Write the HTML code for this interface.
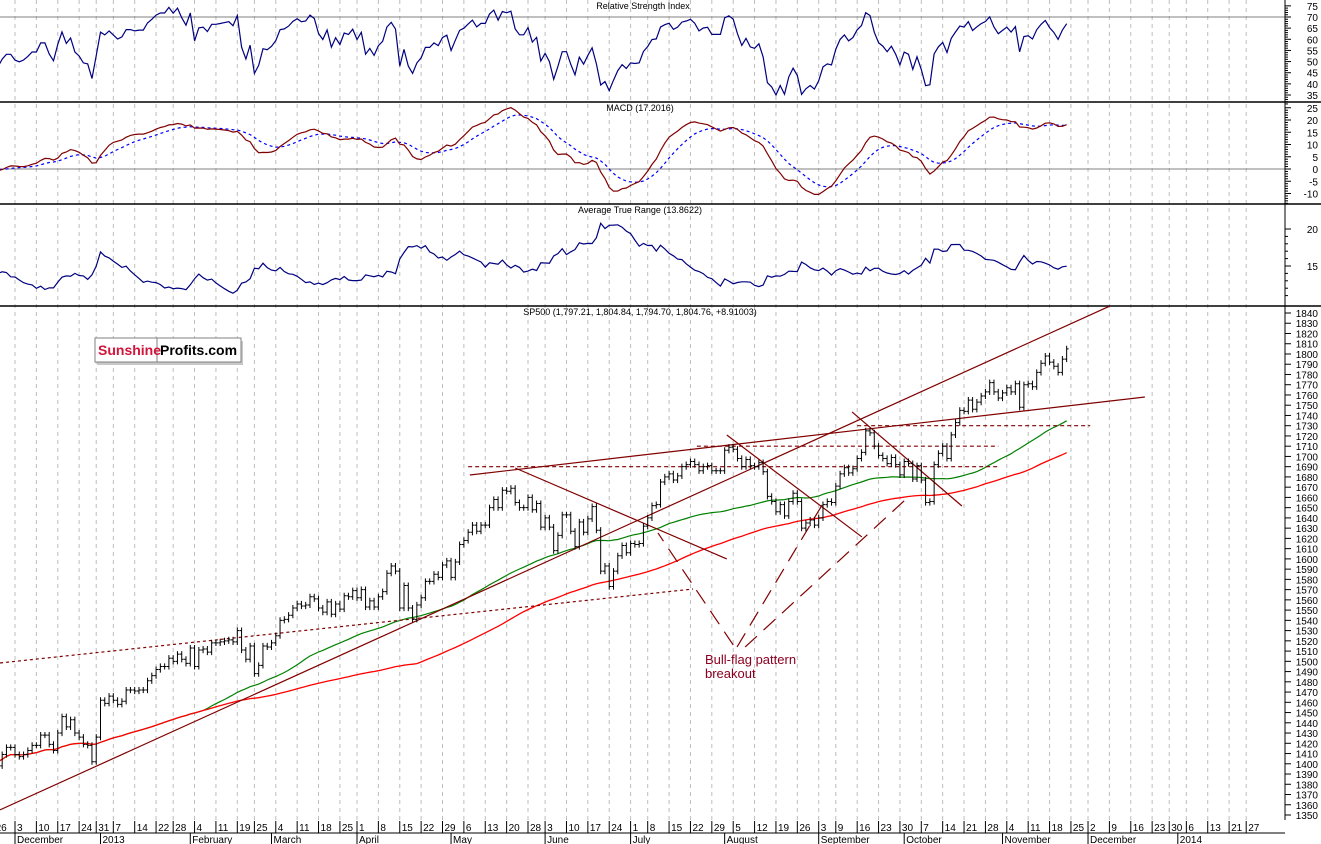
<!DOCTYPE html>
<html><head><meta charset="utf-8"><style>
html,body{margin:0;padding:0;background:#fff;}
svg{display:block;font-family:"Liberation Sans",Arial,sans-serif;}
</style></head><body>
<svg id="c" width="1321" height="844" viewBox="0 0 1321 844">
<defs>
<clipPath id="mainClip"><rect x="0" y="306" width="1285" height="514"/></clipPath>
<clipPath id="rsiClip"><rect x="0" y="0" width="1285" height="102"/></clipPath>
<clipPath id="macdClip"><rect x="0" y="102" width="1285" height="102"/></clipPath>
<clipPath id="atrClip"><rect x="0" y="204" width="1285" height="102"/></clipPath>
</defs>
<g id="grid"></g>
<g id="panels"></g>
<g id="rsi" clip-path="url(#rsiClip)"></g>
<g id="macd" clip-path="url(#macdClip)"></g>
<g id="atr" clip-path="url(#atrClip)"></g>
<g id="main" clip-path="url(#mainClip)"></g>
<g id="axis"></g>
<g id="dates"></g>
<text x="643" y="9" font-size="9" text-anchor="middle">Relative Strength Index</text>
<text x="640" y="111" font-size="9" text-anchor="middle">MACD (17.2016)</text>
<text x="640" y="213" font-size="9" text-anchor="middle">Average True Range (13.8622)</text>
<text x="640" y="315" font-size="9" text-anchor="middle">SP500 (1,797.21, 1,804.84, 1,794.70, 1,804.76, +8.91003)</text>
<g>
<rect x="97" y="341" width="146" height="24" fill="#c8c8c8"/>
<rect x="95" y="338" width="146" height="24" fill="#fff" stroke="#808080"/>
<line x1="157" y1="338" x2="157" y2="362" stroke="#808080"/>
<text x="98" y="355" font-size="14" font-weight="bold" fill="#d2143a">Sunshine</text>
<text x="160" y="355" font-size="14" font-weight="bold" fill="#000">Profits.com</text>
</g>
<text x="705" y="664" font-size="13" fill="#8b0020">Bull-flag pattern</text>
<text x="705" y="678" font-size="13" fill="#8b0020">breakout</text>
</svg>
<script>
const closes = [1406,1398,1409,1416,1416,
1409,1407,1409,1413,1418,1418,1428,1428,1419,1413,1430,1446,1436,1443,1430,1426,1419,1418,1402,1426,
1462,1459,1466,1462,1458,1461,1472,1472,1471,1472,1472,1481,1486,1492,1495,1495,1503,1500,1507,1502,1498,
1513,1495,1511,1512,1509,1518,1518,1519,1520,1521,1519,1530,1511,1502,1515,1488,1496,1515,1514,
1518,1525,1540,1541,1545,1552,1556,1554,1555,1563,1561,1552,1548,1558,1546,1556,1551,1564,1563,1569,
1562,1570,1553,1559,1553,1563,1568,1586,1593,1588,1552,1574,1552,1541,1555,1562,1578,1578,1585,1582,1594,1598,
1582,1597,1614,1618,1626,1633,1627,1633,1633,1650,1658,1650,1667,1666,1669,1655,1650,1650,1660,1648,1654,1631,
1640,1631,1608,1623,1643,1643,1627,1612,1636,1626,1639,1651,1628,1588,1593,1573,1588,1603,1613,1606,
1615,1614,1615,1632,1640,1652,1653,1675,1680,1683,1677,1681,1690,1692,1695,1692,1686,1690,1691,1686,1686,1686,
1706,1709,1707,1698,1690,1697,1691,1690,1694,1685,1661,1656,1646,1653,1642,1656,1664,1656,1630,1635,1638,1633,
1640,1653,1656,1655,1671,1683,1689,1684,1688,1698,1704,1725,1723,1710,1701,1698,1693,1699,1692,1682,
1695,1693,1678,1691,1677,1655,1656,1692,1703,1710,1698,1721,1733,1745,1744,1755,1746,1753,1759,1763,1772,1763,1757,
1762,1767,1763,1771,1748,1770,1771,1768,1782,1791,1798,1792,1788,1782,1795,1805];
const startIndex = -5;
const trendLines = [[-3.5,1355,256.1,1846.8],[106.4,1681.9,264.3,1758],[117,1688.7,166.5,1599.9],[166.5,1720.9,198.1,1621.4],[195.8,1743.4,221.5,1651.6]];
const supportDotted = [[-3.5,1498.4,158.6,1570.6]];
const flagDashed = [[168,1516,150.4,1625.3],[168.9,1514,188.8,1652.6],[170.8,1514,208.7,1659.4]];
const levels = [[106,230,1690],[159.5,230,1710],[197,251.5,1730]];
const rsiTicks=[75,70,65,60,55,50,45,40,35];
const macdTicks=[25,20,15,10,5,0,-5,-10];
const atrTicks=[20,15];
const priceTicks=[];for(let p=1840;p>=1350;p-=10)priceTicks.push(p);
const monthNames=["January","February","March","April","May","June","July","August","September","October","November","December"];
const holidays=["2012-12-25","2013-01-01","2013-01-21","2013-02-18","2013-03-29","2013-05-27","2013-07-04","2013-09-02","2013-11-28","2013-12-25","2014-01-01","2014-01-20"];

const NS="http://www.w3.org/2000/svg";
function mk(tag,attrs,parent){const e=document.createElementNS(NS,tag);for(const k in attrs)e.setAttribute(k,attrs[k]);parent.appendChild(e);return e;}
const X=i=>15+4.275*i;
const YP=p=>313+(1840-p)*1.0245;
const YR=v=>17+(70-v)*2.229;
const YM=v=>169-v*2.45;
const YA=v=>266-(v-15)*7.4;

const days=[];
{let d=new Date(Date.UTC(2012,10,26));let idx=startIndex;const end=Date.UTC(2014,0,31);
 while(d.getTime()<=end){const wd=d.getUTCDay();const s=d.toISOString().slice(0,10);
  if(wd!==0&&wd!==6&&holidays.indexOf(s)<0){days.push({i:idx,date:new Date(d)});idx++;}
  d=new Date(d.getTime()+86400000);}}
const grid=document.getElementById('grid'),dates=document.getElementById('dates');
let prevWeek=null,prevMonth=null;
days.forEach((dd,k)=>{const dt=dd.date;const x=X(dd.i);
 const monday=new Date(dt.getTime()-((dt.getUTCDay()+6)%7)*86400000).getTime();
 if(monday!==prevWeek){prevWeek=monday;
  const g=mk('line',{x1:x,y1:0,x2:x,y2:820,stroke:'#bdbdbd','stroke-dasharray':'4,4','stroke-width':1},grid);
  
  
  mk('line',{x1:x,y1:821,x2:x,y2:833,stroke:'#000'},dates);
  const t=mk('text',{x:x+2,y:831,'font-size':10},dates);t.textContent=dt.getUTCDate();
  
  
 }
 const m=dt.getUTCMonth();
 if(m!==prevMonth){ if(prevMonth!==null){
  mk('line',{x1:x,y1:833,x2:x,y2:844,stroke:'#000'},dates);
  const t=mk('text',{x:x+2,y:843,'font-size':10},dates);t.textContent=(m===0?String(dt.getUTCFullYear()):monthNames[m]);
  
  }
  prevMonth=m;}
});
mk('line',{x1:0,y1:833,x2:1285,y2:833,stroke:'#000'},dates);

const panels=document.getElementById('panels');
[102,204,306].forEach(y=>{const l=mk('line',{x1:0,y1:y,x2:1321,y2:y,stroke:'#000','stroke-width':1.5},panels);
 
 });
mk('line',{x1:0,y1:YR(70),x2:1285,y2:YR(70),stroke:'#808080'},panels);
mk('line',{x1:0,y1:YM(0),x2:1285,y2:YM(0),stroke:'#808080'},panels);

const n=closes.length;
const opens=closes.map((c,k)=>k?closes[k-1]:c-2);
const highs=closes.map((c,k)=>Math.max(c,opens[k])+3);
const lows=closes.map((c,k)=>Math.min(c,opens[k])-3);
function sma(arr,w){return arr.map((v,k)=>{const s=Math.max(0,k-w+1);let t=0;for(let j=s;j<=k;j++)t+=arr[j];return t/(k-s+1);});}
function ema(arr,w){const a=2/(w+1);const o=[];arr.forEach((v,k)=>o.push(k?a*v+(1-a)*o[k-1]:v));return o;}
const rsi=[];{let ag=6,al=6;for(let k=1;k<n;k++){const ch=closes[k]-closes[k-1];const g=Math.max(ch,0),l=Math.max(-ch,0);
 ag=(ag*13+g)/14;al=(al*13+l)/14;rsi.push([k,100-100/(1+ag/al)]);}}
const e12=ema(closes,12),e26=ema(closes,26);const macd=closes.map((c,k)=>e12[k]-e26[k]);const sig=ema(macd,9);
const tr=closes.map((c,k)=>k?Math.max(highs[k],closes[k-1])-Math.min(lows[k],closes[k-1]):highs[k]-lows[k]);
const atr=[];tr.forEach((v,k)=>atr.push(k?(atr[k-1]*13+v)/14:v+6));
function poly(pts,attrs,parent,name){const p=mk('polyline',Object.assign({points:pts.map(q=>q[0].toFixed(1)+','+q[1].toFixed(1)).join(' '),fill:'none'},attrs),parent);
 
 return p;}
const XI=k=>X(k+startIndex);
poly(rsi.map(q=>[XI(q[0]),YR(q[1])]),{stroke:'#000080','stroke-width':1.2},document.getElementById('rsi'),'rsi-line');
poly(sig.map((v,k)=>[XI(k),YM(v)]),{stroke:'#0000ff','stroke-width':1.2,'stroke-dasharray':'3,3'},document.getElementById('macd'),'macd-signal-line');
poly(macd.map((v,k)=>[XI(k),YM(v)]),{stroke:'#800000','stroke-width':1.2},document.getElementById('macd'),'macd-line');
poly(atr.map((v,k)=>[XI(k),YA(v)]),{stroke:'#000080','stroke-width':1.2},document.getElementById('atr'),'atr-line');

const main=document.getElementById('main');
const ma50=sma(closes,50),ma100=sma(closes,100);
poly(ma50.map((v,k)=>[XI(k),YP(v)]),{stroke:'#008000','stroke-width':1.2},main,'ma50-line');
poly(ma100.map((v,k)=>[XI(k),YP(v)]),{stroke:'#ff0000','stroke-width':1.3},main,'ma100-line');
function seg(a,attrs,name){const l=mk('line',Object.assign({x1:X(a[0]),y1:YP(a[1]),x2:X(a[2]),y2:YP(a[3]),stroke:'#800000','stroke-width':1.2},attrs),main);
 
 }
trendLines.forEach(a=>seg(a,{},'trend-line'));
supportDotted.forEach(a=>seg(a,{'stroke-dasharray':'3,3'},'support-line'));
flagDashed.forEach(a=>seg(a,{'stroke-dasharray':'16,9'},'breakout-line'));
levels.forEach(a=>seg([a[0],a[2],a[1],a[2]],{'stroke-dasharray':'4,3'},'level-line'));
closes.forEach((c,k)=>{const x=XI(k);const g=mk('path',{d:`M${x},${YP(highs[k])}V${YP(lows[k])}M${x-2},${YP(opens[k])}H${x}M${x},${YP(c)}H${x+2}`,stroke:'#000','stroke-width':1,fill:'none'},main);
 
 });

const ax=document.getElementById('axis');
mk('line',{x1:1285,y1:0,x2:1285,y2:820,stroke:'#000'},ax);
function ticks(list,f,minorStep){list.forEach(v=>{const y=f(v);mk('line',{x1:1285,y1:y,x2:1291,y2:y,stroke:'#000'},ax);
 const t=mk('text',{x:1318,y:y+4,'font-size':10,'text-anchor':'end'},ax);t.textContent=v;
 
 
 if(minorStep){for(let s=1;s<5;s++){const yy=f(v-s*minorStep);mk('line',{x1:1285,y1:yy,x2:1288,y2:yy,stroke:'#000'},ax);}}});}
ticks(rsiTicks,YR,1);ticks(macdTicks,YM,1);ticks(atrTicks,YA,1);ticks(priceTicks,YP,0);
</script>
</body></html>
